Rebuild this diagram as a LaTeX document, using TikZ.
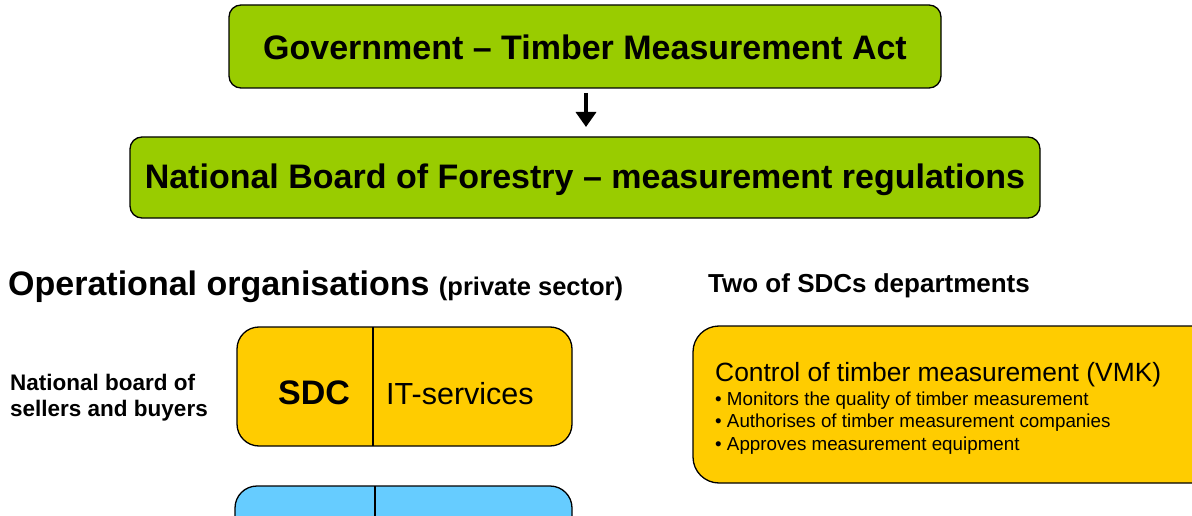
\documentclass[tikz,border=0pt]{standalone}
\usepackage{fontspec}
\setmainfont{Liberation Sans}
\usetikzlibrary{arrows.meta}
\definecolor{cgreen}{HTML}{99CC00}
\definecolor{cyellow}{HTML}{FFCC00}
\definecolor{cblue}{HTML}{66CCFF}
\tikzset{
  greenbox/.style={draw=black, line width=1.3pt, fill=cgreen, rounded corners=12pt},
  orgbox/.style={draw=black, line width=1.3pt, rounded corners=22pt},
}
\begin{document}
\begin{tikzpicture}[x=1pt,y=-1pt]
\useasboundingbox (0,0) rectangle (1192,516);
\clip (0,0) rectangle (1192,516);
% top boxes
\draw[greenbox] (229,5) rectangle (941,88);
\node[font=\bfseries\fontsize{34}{34}\selectfont] (gov) at (585,47) {Government – Timber Measurement Act};
\coordinate (govb) at (586,88);
\draw[greenbox] (130,137) rectangle (1040,218);
\node[font=\bfseries\fontsize{34}{34}\selectfont] (nbf) at (585,180) {National Board of Forestry – measurement regulations};
\coordinate (nbft) at (586,137);
\draw[line width=3.5pt, -{Triangle[width=20pt,length=15pt]}, shorten <=5pt, shorten >=10pt] (govb) -- (nbft);
% headings
\node[anchor=base west, inner sep=0pt, font=\bfseries\fontsize{34}{34}\selectfont] (op) at (8,295) {Operational organisations \fontsize{25.5}{25.5}\selectfont(private sector)};
\node[anchor=base west, inner sep=0pt, font=\bfseries\fontsize{26}{26}\selectfont] (two) at (708,292) {Two of SDCs departments};
% left label
\node[anchor=base west, inner sep=0pt, align=left, font=\bfseries\fontsize{22.5}{26}\selectfont] (nbsb) at (10,416) {National board of\\sellers and buyers};
% SDC box
\draw[orgbox, fill=cyellow] (237,327) rectangle (572,446);
\draw[line width=1.3pt] (373,327) -- (373,446);
\node[anchor=base, inner sep=0pt, font=\bfseries\fontsize{34}{34}\selectfont] (sdc) at (314,404) {SDC};
\node[anchor=base west, inner sep=0pt, font=\fontsize{30.5}{30.5}\selectfont] (its) at (386,404) {IT-services};
% blue box
\draw[orgbox, fill=cblue] (235,486) rectangle (572,606);
\draw[line width=1.3pt] (375,486) -- (375,606);
% right box
\draw[orgbox, fill=cyellow, rounded corners=26pt] (693,326) rectangle (1260,483);
\node[anchor=base west, inner sep=0pt, font=\fontsize{26.4}{26.4}\selectfont] (vmk) at (715,381) {Control of timber measurement (VMK)};
\node[anchor=base west, inner sep=0pt, align=left, font=\fontsize{18.8}{22.5}\selectfont] (bul) at (715,450) {• Monitors the quality of timber measurement\\• Authorises of timber measurement companies\\• Approves measurement equipment};
\end{tikzpicture}
\end{document}
